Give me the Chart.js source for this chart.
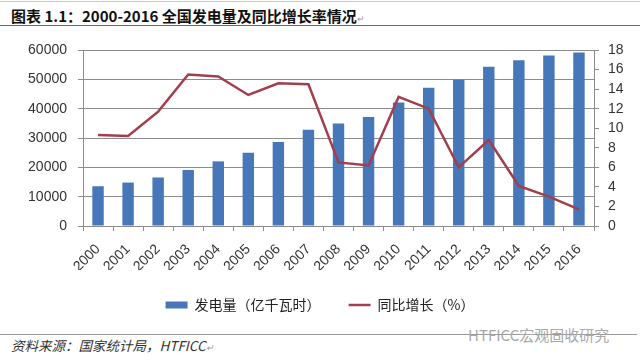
<!DOCTYPE html>
<html lang="zh">
  <head>
    <meta charset="UTF-8" />
    <title>全国发电量及同比增长率情况</title>
    <script src="https://cdn.jsdelivr.net/npm/chart.js"></script>
    <style>
      body {
        margin: 0;
        width: 640px;
        height: 361px;
        background: #fff;
        position: relative;
        overflow: hidden;
        font-family: "Noto Sans CJK SC", "Liberation Sans", sans-serif;
        color: #222;
      }
      .topline {
        position: absolute;
        left: 0;
        top: 1px;
        width: 640px;
        height: 1px;
        background: #c8c8c8;
      }
      .title {
        position: absolute;
        left: 11px;
        top: 6px;
        line-height: 20px;
        font-size: 15px;
        font-weight: bold;
        color: #111;
      }
      .mark {
        font-size: 9px;
        font-weight: normal;
        color: #999;
      }
      .titleline {
        position: absolute;
        left: 0;
        top: 25px;
        width: 640px;
        height: 1px;
        background: #a0505a;
      }
      .wrap {
        position: absolute;
        left: 0;
        top: 38px;
        width: 640px;
        height: 284px;
      }
      .footline {
        position: absolute;
        left: 0;
        top: 334px;
        width: 637px;
        height: 1px;
        background: #9a9a9a;
      }
      .source {
        position: absolute;
        left: 11px;
        top: 336px;
        line-height: 18px;
        font-size: 13.5px;
        font-style: italic;
        color: #333;
      }
      .wm {
        position: absolute;
        left: 468px;
        top: 325px;
        line-height: 20px;
        font-size: 15px;
        color: #a8a8a8;
      }
    </style>
  </head>
  <body>
    <div class="topline"></div>
    <div class="title">图表 1.1：2000-2016 全国发电量及同比增长率情况<span class="mark">↵</span></div>
    <div class="titleline"></div>
    <div class="wrap"><canvas id="chartCanvas"></canvas></div>
    <div class="footline"></div>
    <div class="wm">HTFICC宏观固收研究</div>
    <div class="source">资料来源：国家统计局，HTFICC<span class="mark">↵</span></div>

    <script>
      const tahun = ["2000", "2001", "2002", "2003", "2004", "2005", "2006", "2007", "2008",
        "2009", "2010", "2011", "2012", "2013", "2014", "2015", "2016"];
      const fadianliang = [13556, 14808, 16540, 19106, 22033, 25003, 28657, 32816, 34958,
        37147, 42072, 47130, 49876, 54316, 56496, 58106, 59111];
      const tongbi = [9.3, 9.2, 11.7, 15.5, 15.3, 13.4, 14.6, 14.5, 6.5,
        6.2, 13.2, 12.0, 6.0, 8.8, 4.1, 3.0, 1.7];

      const axisColor = "#8c8c8c";
      const tickFont = { family: "'Liberation Sans', Arial, sans-serif", size: 14 };

      // lebar sumbu tetap, tanpa padding otomatis di atas/bawah
      function aturSumbuY(lebar) {
        return function (scale) {
          scale.width = lebar;
          scale.paddingTop = 0;
          scale.paddingBottom = 0;
        };
      }

      const ctx = document.getElementById("chartCanvas").getContext("2d");
      const chart = new Chart(ctx, {
        data: {
          labels: tahun,
          datasets: [
            {
              type: "bar",
              label: "发电量（亿千瓦时）",
              data: fadianliang,
              backgroundColor: "#4677b8",
              barPercentage: 0.38,
              categoryPercentage: 1,
              yAxisID: "y",
              pointStyle: "rect",
              order: 2,
            },
            {
              type: "line",
              label: "同比增长（%）",
              data: tongbi,
              borderColor: "#a23f4e",
              backgroundColor: "#a23f4e",
              borderWidth: 2.5,
              pointRadius: 0,
              tension: 0,
              yAxisID: "y1",
              pointStyle: "line",
              order: 1,
            },
          ],
        },
        options: {
          responsive: true,
          maintainAspectRatio: false,
          animation: false,
          layout: { padding: { top: 12, left: 0, right: 0, bottom: 0 } },
          plugins: {
            tooltip: { enabled: false },
            legend: {
              position: "bottom",
              labels: {
                usePointStyle: true,
                pointStyleWidth: 22,
                boxHeight: 7,
                padding: 28,
                color: "#222",
                font: { family: "'Noto Sans CJK SC', sans-serif", size: 14 },
                sort: (a, b) => a.datasetIndex - b.datasetIndex,
              },
            },
          },
          scales: {
            x: {
              grid: {
                display: true,
                drawOnChartArea: false,
                color: axisColor,
                tickLength: 5,
                offset: true,
              },
              border: { color: axisColor },
              ticks: {
                color: "#333",
                font: tickFont,
                minRotation: 45,
                maxRotation: 45,
                autoSkip: false,
                padding: 10,
              },
              afterFit(scale) {
                scale.height = 44;
              },
            },
            y: {
              position: "left",
              min: 0,
              max: 60000,
              ticks: {
                stepSize: 10000,
                color: "#333",
                font: tickFont,
                padding: 11,
                callback: (v) => String(v),
              },
              grid: { color: axisColor, tickLength: 5 },
              border: { color: axisColor },
              afterFit: aturSumbuY(83),
            },
            y1: {
              position: "right",
              min: 0,
              max: 18,
              ticks: {
                stepSize: 2,
                autoSkip: false,
                color: "#333",
                font: tickFont,
                padding: 9,
                callback: (v) => String(v),
              },
              grid: { drawOnChartArea: false, color: axisColor, tickLength: 5 },
              border: { color: axisColor },
              afterFit: aturSumbuY(46),
            },
          },
        },
      });
    </script>
  </body>
</html>
